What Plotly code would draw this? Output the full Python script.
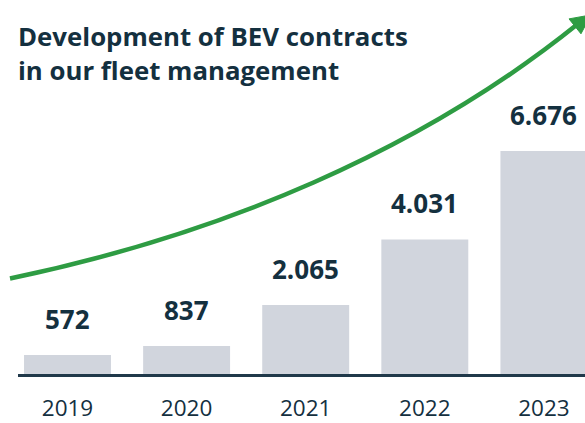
import plotly.graph_objects as go

# BEV contracts in fleet management, per year
years = ["2019", "2020", "2021", "2022", "2023"]
contracts = [572, 837, 2065, 4031, 6676]
value_labels = [f"{v:,}".replace(",", ".") for v in contracts]

W, H = 585, 423
ML, MR, MT, MB = 18, 0, 0, 47

NAVY = "#14303f"
AXIS = "#20394a"
BAR = "#d1d5dd"
GREEN = "#2e9c43"
FONT = "Open Sans"


def px_x(x):
    """Canvas pixel x -> paper x."""
    return (x - ML) / (W - ML - MR)


def px_y(y):
    """Canvas pixel y (from top) -> paper y."""
    return (H - MB - y) / (H - MT - MB)


fig = go.Figure()

fig.add_trace(go.Bar(
    x=list(range(len(years))),
    y=contracts,
    marker=dict(color=BAR, line=dict(width=0)),
    hoverinfo="skip",
))

# value labels above each bar
for i, (v, lab) in enumerate(zip(contracts, value_labels)):
    fig.add_annotation(
        x=i, y=v, xref="x", yref="y", text=f"<b>{lab}</b>",
        showarrow=False, yanchor="bottom", yshift=16,
        font=dict(family=FONT, size=26, color=NAVY),
    )

# growth arrow
def P(x, y):
    return f"{px_x(x):.4f},{px_y(y):.4f}"

curve = f"M {P(10, 280)} C {P(220, 236)} {P(420, 152)} {P(578, 24)}"
fig.add_shape(type="path", path=curve, xref="paper", yref="paper",
              line=dict(color=GREEN, width=4.5), layer="above")
head = f"M {P(591, 15)} L {P(569, 19)} L {P(581, 34)} Z"
fig.add_shape(type="path", path=head, xref="paper", yref="paper",
              line=dict(color=GREEN, width=1), fillcolor=GREEN, layer="above")

# title
fig.add_annotation(
    x=px_x(16), y=px_y(16), xref="paper", yref="paper",
    xanchor="left", yanchor="top", align="left", showarrow=False,
    text="<b>Development of BEV contracts<br>in our fleet management</b>",
    font=dict(family=FONT, size=25.8, color=NAVY),
)

fig.update_layout(
    width=W, height=H,
    margin=dict(l=ML, r=MR, t=MT, b=MB, pad=0),
    paper_bgcolor="white", plot_bgcolor="white",
    bargap=0.27, showlegend=False,
    xaxis=dict(
        range=[-0.4156, 4.345], tickmode="array",
        tickvals=list(range(len(years))), ticktext=years,
        showline=True, linecolor=AXIS, linewidth=2.5,
        showgrid=False, zeroline=False, ticks="",
        tickfont=dict(family=FONT, size=22.5, color=NAVY),
        ticklabelstandoff=12, fixedrange=True,
    ),
    yaxis=dict(range=[0, 11200], visible=False, fixedrange=True),
)

fig.write_html("out.html", config={"displayModeBar": False})
